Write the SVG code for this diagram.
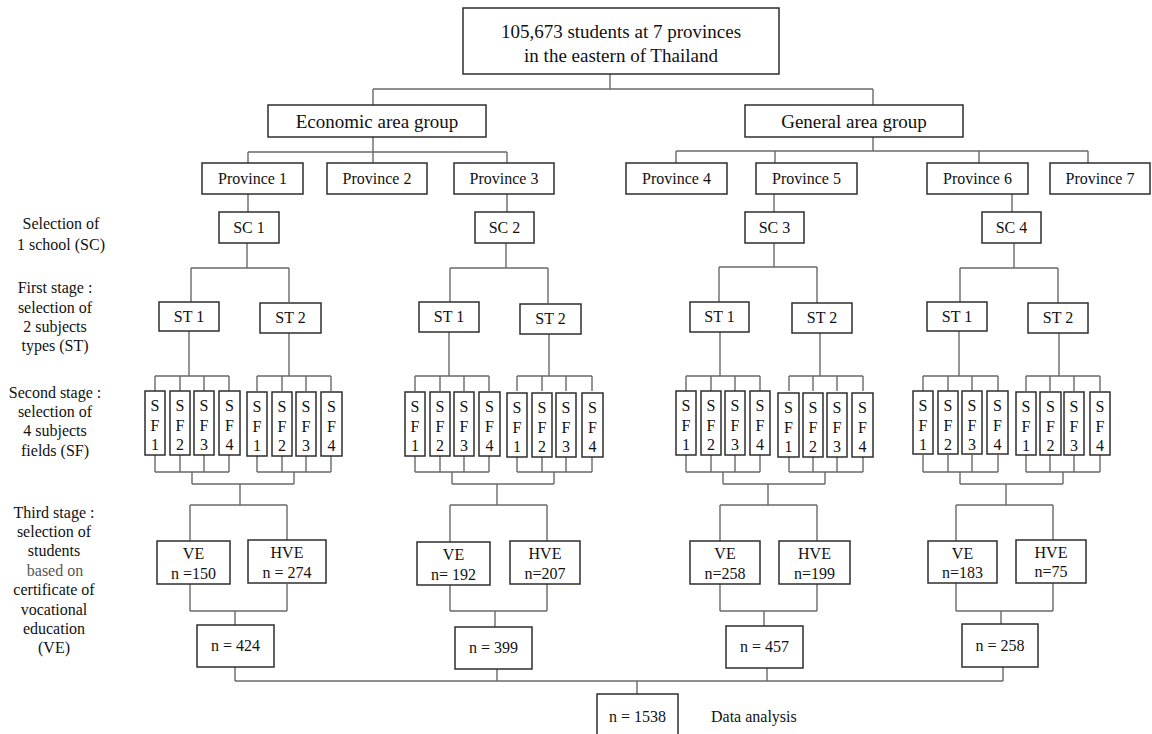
<svg xmlns="http://www.w3.org/2000/svg" width="1152" height="734" viewBox="0 0 1152 734">
<style>
.box{fill:#fff;stroke:#2e2e2e;stroke-width:1.5}
.conn{fill:none;stroke:#6a6a6a;stroke-width:1.4}
text{font-family:"Liberation Serif","Times New Roman",serif;font-size:16px;fill:#111;text-anchor:middle}
.big{font-size:19px}
.lbl{font-size:16px}
.light{fill:#555}
</style>
<rect width="1152" height="734" fill="#fff"/>
<g id="connectors">
<path class="conn" d="M610 74V89M373 89H873M373 89V105M873 89V105"/>
<path class="conn" d="M373 137V152M248 152H507M248 152V163M373 152V163M507 152V163"/>
<path class="conn" d="M873 137V151M676 151H1088M676 151V163M775 151V163M979 151V163M1088 151V163"/>
<path class="conn" d="M248 194V212M507 194V212M774 194V212M1012 194V212"/>
<path class="conn" d="M247 243V268M191 268H289M191 268V302M289 268V302"/>
<path class="conn" d="M506 243V268M450 268H548M450 268V302M548 268V303"/>
<path class="conn" d="M774 243V267M719 267H817M719 267V302M817 267V303"/>
<path class="conn" d="M1014 243V268M960 268H1058M960 268V302M1058 268V303"/>
<path class="conn" d="M189 331V376M155 376H229M155 376V391M180 376V391M204 376V391M229 376V391"/>
<path class="conn" d="M289 333V376M257 376H331M257 376V391M282 376V391M306 376V391M331 376V391"/>
<path class="conn" d="M449 332V376M415 376H489M415 376V391M440 376V391M464 376V391M489 376V391"/>
<path class="conn" d="M549 334V376M517 376H592M517 376V391M542 376V391M566 376V391M592 376V391"/>
<path class="conn" d="M720 332V376M686 376H760M686 376V391M711 376V391M735 376V391M760 376V391"/>
<path class="conn" d="M820 333V376M789 376H863M789 376V391M813 376V391M837 376V391M863 376V391"/>
<path class="conn" d="M959 331V376M923 376H998M923 376V391M948 376V391M972 376V391M998 376V391"/>
<path class="conn" d="M1059 333V376M1026 376H1100M1026 376V391M1050 376V391M1074 376V391M1100 376V391"/>
<path class="conn" d="M155 455V472M180 455V472M204 455V472M229 455V472M155 472H229M257 455V472M282 455V472M306 455V472M331 455V472M257 472H331M192 472V484M294 472V484M192 484H294M240 484V505"/>
<path class="conn" d="M415 455V472M440 455V472M464 455V472M489 455V472M415 472H489M517 455V472M542 455V472M566 455V472M592 455V472M517 472H592M452 472V484M554 472V484M452 484H554M497 484V505"/>
<path class="conn" d="M686 455V472M711 455V472M735 455V472M760 455V472M686 472H760M789 455V472M813 455V472M837 455V472M863 455V472M789 472H863M723 472V484M825 472V484M723 484H825M768 484V505"/>
<path class="conn" d="M923 455V472M948 455V472M972 455V472M998 455V472M923 472H998M1026 455V472M1050 455V472M1074 455V472M1100 455V472M1026 472H1100M960 472V484M1063 472V484M960 484H1063M1006 484V505"/>
<path class="conn" d="M190 505H287M190 505V541M287 505V541M190 584V611M287 584V611M190 611H287M235 611V625"/>
<path class="conn" d="M450 505H547M450 505V542M547 505V541M450 585V611M547 584V611M450 611H547M495 611V627"/>
<path class="conn" d="M720 505H817M720 505V541M817 505V541M720 584V611M817 584V611M720 611H817M764 611V626"/>
<path class="conn" d="M956 505H1053M956 505V541M1053 505V540M956 583V611M1053 583V611M956 611H1053M1001 611V624"/>
<path class="conn" d="M235 667V681M497 669V681M767 668V681M1003 667V681M235 681H1003M637 681V694"/>
</g>
<g id="top"><rect class="box" x="463" y="8" width="316" height="66"/><text class="big" x="621" y="38">105,673 students at 7 provinces</text><text class="big" x="621" y="62">in the eastern of Thailand</text></g>
<g id="economic"><rect class="box" x="268" y="105" width="218" height="32"/><text class="big" x="377" y="128">Economic area group</text></g>
<g id="general"><rect class="box" x="745" y="105" width="218" height="32"/><text class="big" x="854" y="128">General area group</text></g>
<g id="province1"><rect class="box" x="202" y="163" width="101" height="31"/><text x="252.5" y="184">Province 1</text></g>
<g id="province2"><rect class="box" x="327" y="163" width="100" height="31"/><text x="377" y="184">Province 2</text></g>
<g id="province3"><rect class="box" x="454" y="163" width="100" height="31"/><text x="504" y="184">Province 3</text></g>
<g id="province4"><rect class="box" x="626" y="163" width="101" height="31"/><text x="676.5" y="184">Province 4</text></g>
<g id="province5"><rect class="box" x="756" y="163" width="101" height="31"/><text x="806.5" y="184">Province 5</text></g>
<g id="province6"><rect class="box" x="927" y="163" width="101" height="31"/><text x="977.5" y="184">Province 6</text></g>
<g id="province7"><rect class="box" x="1050" y="163" width="100" height="31"/><text x="1100" y="184">Province 7</text></g>
<g id="sc1"><rect class="box" x="219" y="212" width="60" height="31"/><text x="249" y="233">SC 1</text></g>
<g id="sc2"><rect class="box" x="475" y="212" width="59" height="31"/><text x="504.5" y="233">SC 2</text></g>
<g id="sc3"><rect class="box" x="745" y="212" width="59" height="31"/><text x="774.5" y="233">SC 3</text></g>
<g id="sc4"><rect class="box" x="982" y="212" width="59" height="31"/><text x="1011.5" y="233">SC 4</text></g>
<g id="labels">
<text class="lbl" x="61" y="229">Selection of</text><text class="lbl" x="61" y="250">1 school (SC)</text>
<text class="lbl" x="55" y="293">First stage :</text><text class="lbl" x="55" y="313">selection of</text><text class="lbl" x="55" y="332">2 subjects</text><text class="lbl" x="55" y="351">types (ST)</text>
<text class="lbl" x="55" y="398">Second stage :</text><text class="lbl" x="55" y="417">selection of</text><text class="lbl" x="55" y="436">4 subjects</text><text class="lbl" x="55" y="456">fields (SF)</text>
<text class="lbl" x="54" y="518">Third stage :</text><text class="lbl" x="54" y="537">selection of</text><text class="lbl" x="54" y="556">students</text><text class="lbl light" x="55" y="576">based on</text><text class="lbl" x="54" y="595">certificate of</text><text class="lbl" x="54" y="615">vocational</text><text class="lbl" x="54" y="634">education</text><text class="lbl" x="54" y="653">(VE)</text>
</g>
<g id="st-g1-1"><rect class="box" x="159" y="302" width="60" height="29"/><text x="189" y="322">ST 1</text></g>
<g id="st-g1-2"><rect class="box" x="260" y="303" width="61" height="30"/><text x="290.5" y="323">ST 2</text></g>
<g id="st-g2-1"><rect class="box" x="419" y="302" width="60" height="30"/><text x="449" y="322">ST 1</text></g>
<g id="st-g2-2"><rect class="box" x="520" y="304" width="61" height="30"/><text x="550.5" y="324">ST 2</text></g>
<g id="st-g3-1"><rect class="box" x="690" y="302" width="59" height="30"/><text x="719.5" y="322">ST 1</text></g>
<g id="st-g3-2"><rect class="box" x="792" y="303" width="60" height="30"/><text x="822" y="323">ST 2</text></g>
<g id="st-g4-1"><rect class="box" x="927" y="302" width="60" height="29"/><text x="957" y="322">ST 1</text></g>
<g id="st-g4-2"><rect class="box" x="1028" y="303" width="60" height="30"/><text x="1058" y="323">ST 2</text></g>
<g id="sf-g1-a1"><rect class="box" x="145" y="391" width="20" height="64"/><text x="155" y="411">S</text><text x="155" y="431">F</text><text x="155" y="450">1</text></g>
<g id="sf-g1-a2"><rect class="box" x="170" y="391" width="20" height="64"/><text x="180" y="411">S</text><text x="180" y="431">F</text><text x="180" y="450">2</text></g>
<g id="sf-g1-a3"><rect class="box" x="194" y="391" width="20" height="64"/><text x="204" y="411">S</text><text x="204" y="431">F</text><text x="204" y="450">3</text></g>
<g id="sf-g1-a4"><rect class="box" x="219" y="391" width="21" height="64"/><text x="229.5" y="411">S</text><text x="229.5" y="431">F</text><text x="229.5" y="450">4</text></g>
<g id="sf-g1-b1"><rect class="box" x="247" y="392" width="20" height="64"/><text x="257" y="412">S</text><text x="257" y="432">F</text><text x="257" y="451">1</text></g>
<g id="sf-g1-b2"><rect class="box" x="272" y="392" width="20" height="64"/><text x="282" y="412">S</text><text x="282" y="432">F</text><text x="282" y="451">2</text></g>
<g id="sf-g1-b3"><rect class="box" x="296" y="392" width="20" height="64"/><text x="306" y="412">S</text><text x="306" y="432">F</text><text x="306" y="451">3</text></g>
<g id="sf-g1-b4"><rect class="box" x="321" y="392" width="21" height="64"/><text x="331.5" y="412">S</text><text x="331.5" y="432">F</text><text x="331.5" y="451">4</text></g>
<g id="sf-g2-a1"><rect class="box" x="405" y="392" width="20" height="64"/><text x="415" y="412">S</text><text x="415" y="432">F</text><text x="415" y="451">1</text></g>
<g id="sf-g2-a2"><rect class="box" x="430" y="392" width="20" height="64"/><text x="440" y="412">S</text><text x="440" y="432">F</text><text x="440" y="451">2</text></g>
<g id="sf-g2-a3"><rect class="box" x="454" y="392" width="20" height="64"/><text x="464" y="412">S</text><text x="464" y="432">F</text><text x="464" y="451">3</text></g>
<g id="sf-g2-a4"><rect class="box" x="479" y="392" width="21" height="64"/><text x="489.5" y="412">S</text><text x="489.5" y="432">F</text><text x="489.5" y="451">4</text></g>
<g id="sf-g2-b1"><rect class="box" x="507" y="393" width="20" height="64"/><text x="517" y="413">S</text><text x="517" y="433">F</text><text x="517" y="452">1</text></g>
<g id="sf-g2-b2"><rect class="box" x="532" y="393" width="20" height="64"/><text x="542" y="413">S</text><text x="542" y="433">F</text><text x="542" y="452">2</text></g>
<g id="sf-g2-b3"><rect class="box" x="556" y="393" width="20" height="64"/><text x="566" y="413">S</text><text x="566" y="433">F</text><text x="566" y="452">3</text></g>
<g id="sf-g2-b4"><rect class="box" x="582" y="393" width="21" height="64"/><text x="592.5" y="413">S</text><text x="592.5" y="433">F</text><text x="592.5" y="452">4</text></g>
<g id="sf-g3-a1"><rect class="box" x="676" y="391" width="20" height="64"/><text x="686" y="411">S</text><text x="686" y="431">F</text><text x="686" y="450">1</text></g>
<g id="sf-g3-a2"><rect class="box" x="701" y="391" width="20" height="64"/><text x="711" y="411">S</text><text x="711" y="431">F</text><text x="711" y="450">2</text></g>
<g id="sf-g3-a3"><rect class="box" x="725" y="391" width="20" height="64"/><text x="735" y="411">S</text><text x="735" y="431">F</text><text x="735" y="450">3</text></g>
<g id="sf-g3-a4"><rect class="box" x="750" y="391" width="20" height="64"/><text x="760" y="411">S</text><text x="760" y="431">F</text><text x="760" y="450">4</text></g>
<g id="sf-g3-b1"><rect class="box" x="778" y="393" width="21" height="64"/><text x="788.5" y="413">S</text><text x="788.5" y="433">F</text><text x="788.5" y="452">1</text></g>
<g id="sf-g3-b2"><rect class="box" x="803" y="393" width="20" height="64"/><text x="813" y="413">S</text><text x="813" y="433">F</text><text x="813" y="452">2</text></g>
<g id="sf-g3-b3"><rect class="box" x="827" y="393" width="20" height="64"/><text x="837" y="413">S</text><text x="837" y="433">F</text><text x="837" y="452">3</text></g>
<g id="sf-g3-b4"><rect class="box" x="852" y="393" width="21" height="64"/><text x="862.5" y="413">S</text><text x="862.5" y="433">F</text><text x="862.5" y="452">4</text></g>
<g id="sf-g4-a1"><rect class="box" x="913" y="391" width="20" height="63"/><text x="923" y="411">S</text><text x="923" y="431">F</text><text x="923" y="450">1</text></g>
<g id="sf-g4-a2"><rect class="box" x="938" y="391" width="20" height="63"/><text x="948" y="411">S</text><text x="948" y="431">F</text><text x="948" y="450">2</text></g>
<g id="sf-g4-a3"><rect class="box" x="962" y="391" width="20" height="63"/><text x="972" y="411">S</text><text x="972" y="431">F</text><text x="972" y="450">3</text></g>
<g id="sf-g4-a4"><rect class="box" x="987" y="391" width="21" height="63"/><text x="997.5" y="411">S</text><text x="997.5" y="431">F</text><text x="997.5" y="450">4</text></g>
<g id="sf-g4-b1"><rect class="box" x="1016" y="392" width="20" height="63"/><text x="1026" y="412">S</text><text x="1026" y="432">F</text><text x="1026" y="451">1</text></g>
<g id="sf-g4-b2"><rect class="box" x="1040" y="392" width="21" height="63"/><text x="1050.5" y="412">S</text><text x="1050.5" y="432">F</text><text x="1050.5" y="451">2</text></g>
<g id="sf-g4-b3"><rect class="box" x="1064" y="392" width="20" height="63"/><text x="1074" y="412">S</text><text x="1074" y="432">F</text><text x="1074" y="451">3</text></g>
<g id="sf-g4-b4"><rect class="box" x="1090" y="392" width="20" height="63"/><text x="1100" y="412">S</text><text x="1100" y="432">F</text><text x="1100" y="451">4</text></g>
<g id="ve-g1"><rect class="box" x="157" y="541" width="73" height="43"/><text x="193.5" y="559">VE</text><text x="193.5" y="579">n =150</text></g>
<g id="hve-g1"><rect class="box" x="248" y="540" width="78" height="43"/><text x="287" y="558">HVE</text><text x="287" y="578">n = 274</text></g>
<g id="ve-g2"><rect class="box" x="417" y="542" width="73" height="43"/><text x="453.5" y="560">VE</text><text x="453.5" y="580">n= 192</text></g>
<g id="hve-g2"><rect class="box" x="510" y="541" width="70" height="43"/><text x="545" y="559">HVE</text><text x="545" y="579">n=207</text></g>
<g id="ve-g3"><rect class="box" x="690" y="541" width="70" height="43"/><text x="725" y="559">VE</text><text x="725" y="579">n=258</text></g>
<g id="hve-g3"><rect class="box" x="779" y="541" width="71" height="43"/><text x="814.5" y="559">HVE</text><text x="814.5" y="579">n=199</text></g>
<g id="ve-g4"><rect class="box" x="928" y="541" width="69" height="42"/><text x="962.5" y="559">VE</text><text x="962.5" y="578">n=183</text></g>
<g id="hve-g4"><rect class="box" x="1016" y="540" width="70" height="43"/><text x="1051" y="558">HVE</text><text x="1051" y="577">n=75</text></g>
<g id="n-g1"><rect class="box" x="197" y="625" width="77" height="42"/><text x="235.5" y="651">n = 424</text></g>
<g id="n-g2"><rect class="box" x="455" y="627" width="77" height="42"/><text x="493.5" y="653">n = 399</text></g>
<g id="n-g3"><rect class="box" x="726" y="626" width="77" height="42"/><text x="764.5" y="652">n = 457</text></g>
<g id="n-g4"><rect class="box" x="962" y="624" width="76" height="43"/><text x="1000" y="651">n = 258</text></g>
<g id="total"><rect class="box" x="597" y="694" width="81" height="46"/><text x="637.5" y="722">n = 1538</text></g>
<g id="data-analysis"><text x="711" y="722" style="text-anchor:start">Data analysis</text></g>
</svg>
